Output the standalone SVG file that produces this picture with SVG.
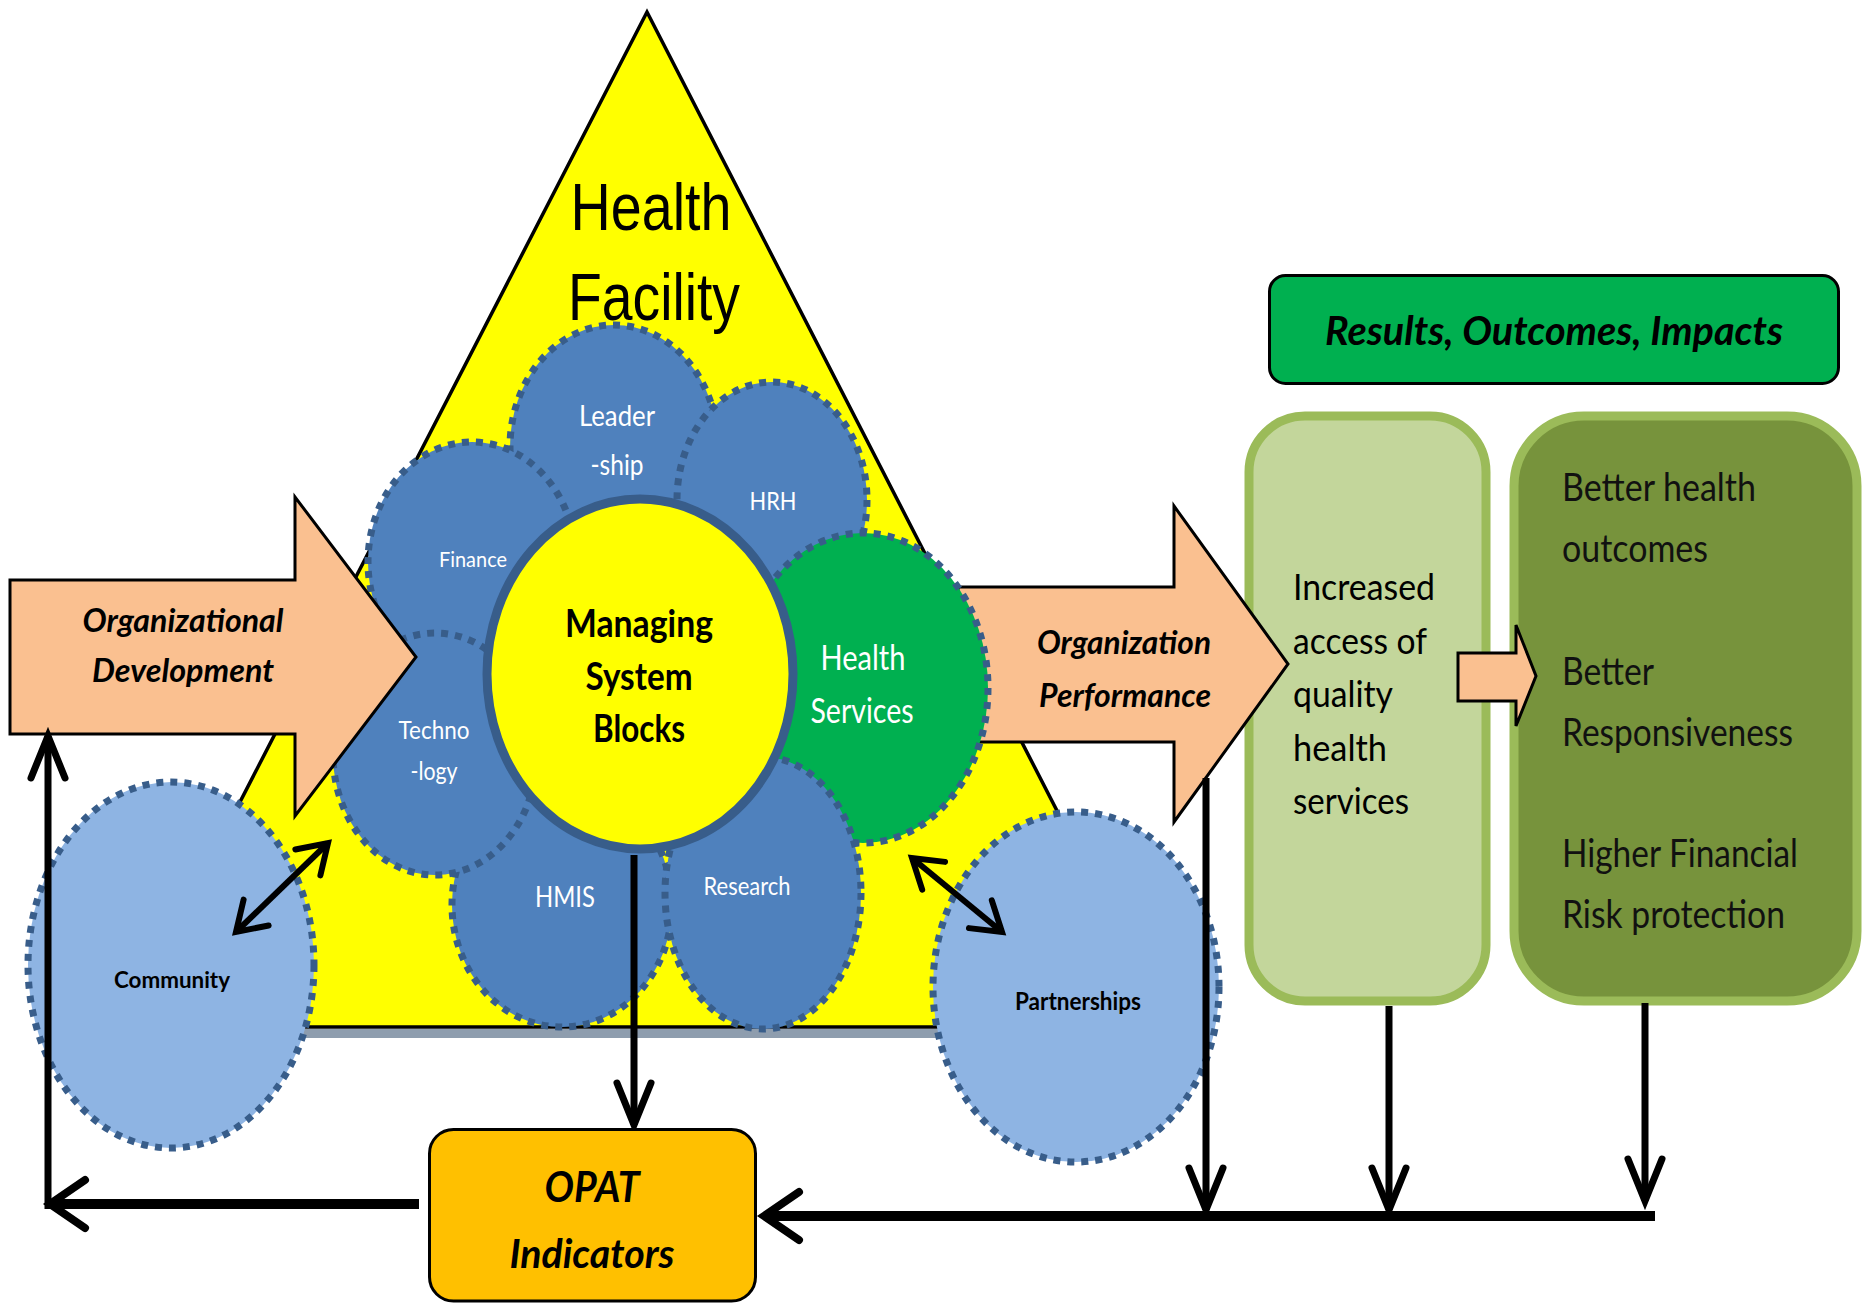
<svg xmlns="http://www.w3.org/2000/svg" width="1866" height="1303" viewBox="0 0 1866 1303">
  <style>
    .sans{font-family:Lato,'Open Sans','Liberation Sans',sans-serif}
    .arial{font-family:'Liberation Sans',Arial,sans-serif}
    .petal{fill:#4F81BD;stroke:#385D8A;stroke-width:7;stroke-dasharray:7 7}
    .outer{fill:#8EB4E3;stroke:#385D8A;stroke-width:7;stroke-dasharray:7 7}
    .ptxt{fill:#FFFFFF;text-anchor:middle}
    .mid{text-anchor:middle}
    .b{font-weight:700}
    .bi{font-weight:700;font-style:italic}
    .fat{fill:#FAC090;stroke:#000;stroke-width:3;stroke-linejoin:miter}
    .v{fill:none;stroke:#000;stroke-width:7}
    .h{fill:none;stroke:#000;stroke-width:10}
    .d{fill:none;stroke:#000;stroke-width:6}
  </style>
  <defs>
    <marker id="headV" viewBox="-60 -30 75 60" markerWidth="75" markerHeight="60" refX="0" refY="0" orient="auto" markerUnits="userSpaceOnUse" overflow="visible">
      <path d="M-42,-17 L0,0 L-42,17" fill="none" stroke="#000" stroke-width="7" stroke-linecap="round"/>
    </marker>
    <marker id="headH" viewBox="-60 -35 75 70" markerWidth="75" markerHeight="70" refX="0" refY="0" orient="auto" markerUnits="userSpaceOnUse" overflow="visible">
      <path d="M-35,-24 L0,0 L-35,24" fill="none" stroke="#000" stroke-width="8" stroke-linecap="round"/>
    </marker>
    <marker id="headS" viewBox="-50 -30 65 60" markerWidth="65" markerHeight="60" refX="0" refY="0" orient="auto-start-reverse" markerUnits="userSpaceOnUse" overflow="visible">
      <path d="M-28,-18 L0,0 L-28,18" fill="none" stroke="#000" stroke-width="6" stroke-linecap="round"/>
    </marker>
  </defs>

  <!-- health facility triangle -->
  <g id="health-facility">
    <rect x="124" y="1029" width="1044" height="9" fill="#8E9DAE"/>
    <polygon points="647,12 1168,1027 124,1027" fill="#FFFF00" stroke="#000" stroke-width="3.5"/>
    <text class="arial mid" x="651" y="230" font-size="67" textLength="161" lengthAdjust="spacingAndGlyphs">Health</text>
    <text class="arial mid" x="654" y="320" font-size="67" textLength="172" lengthAdjust="spacingAndGlyphs">Facility</text>
  </g>

  <!-- result columns -->
  <g id="results-header">
    <rect x="1269.5" y="275.5" width="569" height="108" rx="16" fill="#00B050" stroke="#000" stroke-width="3"/>
    <text class="sans bi mid" x="1554" y="345" font-size="40" textLength="458" lengthAdjust="spacingAndGlyphs">Results, Outcomes, Impacts</text>
  </g>
  <g id="access-box">
    <rect x="1249" y="416" width="237" height="585" rx="56" fill="#C3D69B" stroke="#9BBB59" stroke-width="9"/>
    <g class="sans" font-size="37" fill="#000">
      <text x="1293" y="600" textLength="142" lengthAdjust="spacingAndGlyphs">Increased</text>
      <text x="1293" y="654" textLength="134" lengthAdjust="spacingAndGlyphs">access of</text>
      <text x="1293" y="707" textLength="100" lengthAdjust="spacingAndGlyphs">quality</text>
      <text x="1293" y="761" textLength="94" lengthAdjust="spacingAndGlyphs">health</text>
      <text x="1293" y="814" textLength="116" lengthAdjust="spacingAndGlyphs">services</text>
    </g>
  </g>
  <g id="impact-box">
    <rect x="1514" y="416" width="343" height="585" rx="70" fill="#77933C" stroke="#9BBB59" stroke-width="9"/>
    <g class="sans" font-size="38" fill="#111">
      <text x="1562" y="501" textLength="194" lengthAdjust="spacingAndGlyphs">Better health</text>
      <text x="1562" y="562" textLength="146" lengthAdjust="spacingAndGlyphs">outcomes</text>
      <text x="1562" y="685" textLength="92" lengthAdjust="spacingAndGlyphs">Better</text>
      <text x="1562" y="746" textLength="231" lengthAdjust="spacingAndGlyphs">Responsiveness</text>
      <text x="1562" y="867" textLength="236" lengthAdjust="spacingAndGlyphs">Higher Financial</text>
      <text x="1562" y="928" textLength="223" lengthAdjust="spacingAndGlyphs">Risk protection</text>
    </g>
  </g>
  <g id="access-to-impact">
    <polygon class="fat" points="1458,653 1516,653 1516,625 1536,676 1516,726 1516,701 1458,701"/>
  </g>

  <!-- organization performance arrow (sits under the health services petal) -->
  <g id="organization-performance">
    <polygon class="fat" points="958,587 1174,587 1174,506 1288,664 1174,822 1174,742 958,742"/>
  </g>

  <!-- system building blocks -->
  <g id="leadership">
    <ellipse class="petal" cx="614" cy="447" rx="104" ry="122"/>
    <text class="sans ptxt" x="617" y="426" font-size="28" textLength="76" lengthAdjust="spacingAndGlyphs">Leader</text>
    <text class="sans ptxt" x="617" y="475" font-size="28" textLength="53" lengthAdjust="spacingAndGlyphs">-ship</text>
  </g>
  <g id="finance">
    <ellipse class="petal" cx="472" cy="562" rx="104" ry="120"/>
    <text class="sans ptxt" x="473" y="567" font-size="22" textLength="68" lengthAdjust="spacingAndGlyphs">Finance</text>
  </g>
  <g id="hrh">
    <ellipse class="petal" cx="772" cy="500" rx="95" ry="118"/>
    <text class="sans ptxt" x="773" y="510" font-size="25.5" textLength="47" lengthAdjust="spacingAndGlyphs">HRH</text>
  </g>
  <g id="health-services">
    <ellipse class="petal" cx="863" cy="688" rx="125" ry="155" style="fill:#00B050"/>
    <text class="sans ptxt" x="863" y="670" font-size="34" textLength="85" lengthAdjust="spacingAndGlyphs">Health</text>
    <text class="sans ptxt" x="862" y="723" font-size="34" textLength="103" lengthAdjust="spacingAndGlyphs">Services</text>
  </g>
  <g id="hmis">
    <ellipse class="petal" cx="562" cy="905" rx="110" ry="122"/>
    <text class="sans ptxt" x="565" y="907" font-size="29" textLength="60" lengthAdjust="spacingAndGlyphs">HMIS</text>
  </g>
  <g id="technology">
    <ellipse class="petal" cx="435" cy="754" rx="102" ry="121"/>
    <text class="sans ptxt" x="434" y="739" font-size="24.5" textLength="71" lengthAdjust="spacingAndGlyphs">Techno</text>
    <text class="sans ptxt" x="434" y="780" font-size="24.5" textLength="47" lengthAdjust="spacingAndGlyphs">-logy</text>
  </g>
  <g id="research">
    <ellipse class="petal" cx="763" cy="893" rx="98" ry="136"/>
    <text class="sans ptxt" x="747" y="895" font-size="24.5" textLength="87" lengthAdjust="spacingAndGlyphs">Research</text>
  </g>
  <g id="managing-system-blocks">
    <ellipse cx="640" cy="674" rx="153" ry="175" fill="#FFFF00" stroke="#385D8A" stroke-width="9"/>
    <g class="sans b mid" font-size="38">
      <text x="639" y="637" textLength="148" lengthAdjust="spacingAndGlyphs">Managing</text>
      <text x="639" y="690" textLength="107" lengthAdjust="spacingAndGlyphs">System</text>
      <text x="639" y="742" textLength="92" lengthAdjust="spacingAndGlyphs">Blocks</text>
    </g>
  </g>

  <g id="organization-performance-label" class="sans bi mid" font-size="32">
    <text x="1124" y="654" textLength="174" lengthAdjust="spacingAndGlyphs">Organization</text>
    <text x="1125" y="707" textLength="172" lengthAdjust="spacingAndGlyphs">Performance</text>
  </g>

  <!-- organizational development arrow -->
  <g id="organizational-development">
    <polygon class="fat" points="10,580 295,580 295,497 416,657 295,816 295,734 10,734"/>
    <g class="sans bi mid" font-size="32">
      <text x="183" y="632" textLength="201" lengthAdjust="spacingAndGlyphs">Organizational</text>
      <text x="183" y="682" textLength="182" lengthAdjust="spacingAndGlyphs">Development</text>
    </g>
  </g>

  <!-- external actors -->
  <g id="community">
    <ellipse class="outer" cx="171" cy="965" rx="143" ry="183"/>
    <text class="sans b mid" x="172" y="988" font-size="23" textLength="116" lengthAdjust="spacingAndGlyphs">Community</text>
  </g>
  <g id="partnerships">
    <ellipse class="outer" cx="1076" cy="987" rx="143" ry="175"/>
    <text class="sans b mid" x="1078" y="1010" font-size="24" textLength="126" lengthAdjust="spacingAndGlyphs">Partnerships</text>
  </g>

  <!-- feedback connectors -->
  <g id="connectors">
    <path class="v" d="M634,855 V1125" marker-end="url(#headV)"/>
    <path class="v" d="M1206,778 V1210" marker-end="url(#headV)"/>
    <path class="v" d="M1389,1006 V1210" marker-end="url(#headV)"/>
    <path class="v" d="M1645,1003 V1201" marker-end="url(#headV)"/>
    <path class="h" d="M1655,1216 H764" marker-end="url(#headH)"/>
    <path class="h" d="M419,1204 H50" marker-end="url(#headH)"/>
    <path class="v" d="M48,1209 V736" marker-end="url(#headV)"/>
    <path class="d" d="M236,932 L328,843" marker-start="url(#headS)" marker-end="url(#headS)"/>
    <path class="d" d="M912,858 L1002,932" marker-start="url(#headS)" marker-end="url(#headS)"/>
  </g>

  <g id="opat-indicators">
    <rect x="429.5" y="1129.5" width="326" height="171.5" rx="24" fill="#FFC000" stroke="#000" stroke-width="3"/>
    <text class="sans bi mid" x="592" y="1202" font-size="42" textLength="95" lengthAdjust="spacingAndGlyphs">OPAT</text>
    <text class="sans bi mid" x="592" y="1268" font-size="40" textLength="165" lengthAdjust="spacingAndGlyphs">Indicators</text>
  </g>
</svg>
